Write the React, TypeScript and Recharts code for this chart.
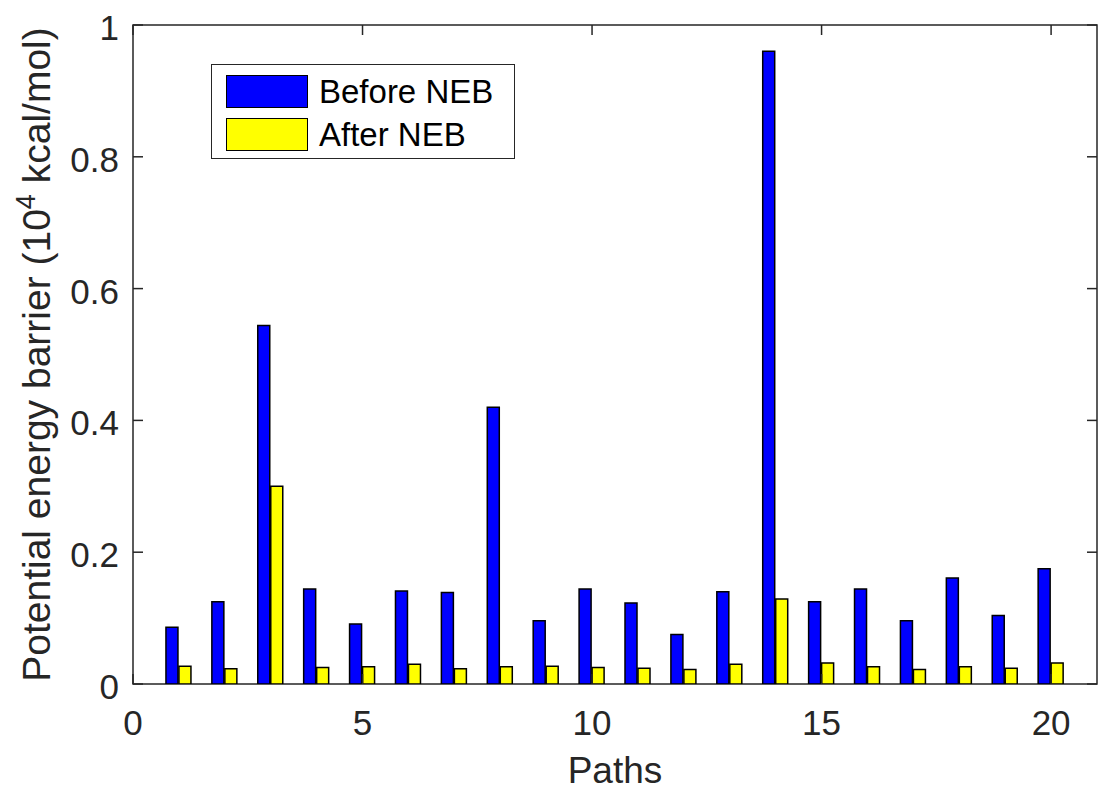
import React from "react";
import { BarChart, Bar, XAxis, YAxis, Legend, ReferenceArea } from "recharts";

// values (units of 10^4 kcal/mol)
const paths = [1, 2, 3, 4, 5, 6, 7, 8, 9, 10, 11, 12, 13, 14, 15, 16, 17, 18, 19, 20];
const beforeNEB = [0.086, 0.125, 0.544, 0.144, 0.091, 0.141, 0.139, 0.42, 0.096, 0.144, 0.123, 0.075, 0.14, 0.96, 0.125, 0.144, 0.096, 0.161, 0.104, 0.175];
const afterNEB = [0.027, 0.023, 0.3, 0.025, 0.026, 0.03, 0.023, 0.026, 0.027, 0.025, 0.024, 0.022, 0.03, 0.129, 0.032, 0.026, 0.022, 0.026, 0.024, 0.032];
const xTicks = [0, 5, 10, 15, 20];
const yTicks = [0, 0.2, 0.4, 0.6, 0.8, 1];

const FONT = "'Liberation Sans', Arial, Helvetica, sans-serif";
const AXIS = "#262626";
const PLOT_TOP = 25;
const PLOT_BOTTOM = 684;
const PLOT_LEFT = 133;
const PLOT_RIGHT = 1097;

const data = paths.map((p, i) => ({ path: p, before: beforeNEB[i], after: afterNEB[i] }));

const fmtY = (v: number) => String(Math.round(v * 10) / 10);

// bottom tick label + inward ticks on bottom and top edges
const XTick = (props: any) => {
  const { x, y, payload } = props;
  return (
    <g>
      <line x1={x} x2={x} y1={PLOT_BOTTOM} y2={PLOT_BOTTOM - 10} stroke={AXIS} strokeWidth={1.5} />
      <line x1={x} x2={x} y1={PLOT_TOP} y2={PLOT_TOP + 10} stroke={AXIS} strokeWidth={1.5} />
      <text x={x} y={y + 51} textAnchor="middle" fontSize={35} fill={AXIS} fontFamily={FONT}>
        {payload.value}
      </text>
    </g>
  );
};

// left tick label + inward ticks on left and right edges
const YTick = (props: any) => {
  const { y, payload } = props;
  return (
    <g>
      <line x1={PLOT_LEFT} x2={PLOT_LEFT + 10} y1={y} y2={y} stroke={AXIS} strokeWidth={1.5} />
      <line x1={PLOT_RIGHT} x2={PLOT_RIGHT - 10} y1={y} y2={y} stroke={AXIS} strokeWidth={1.5} />
      <text x={PLOT_LEFT - 14} y={y + 15} textAnchor="end" fontSize={35} fill={AXIS} fontFamily={FONT}>
        {fmtY(payload.value)}
      </text>
    </g>
  );
};

const XLabel = (props: any) => {
  const vb = props.viewBox || {};
  const cx = vb.x + vb.width / 2;
  return (
    <text x={cx} y={783} textAnchor="middle" fontSize={37} fill={AXIS} fontFamily={FONT}>
      Paths
    </text>
  );
};

const YLabel = () => {
  const cy = (PLOT_TOP + PLOT_BOTTOM) / 2;
  return (
    <text
      x={50}
      y={cy}
      transform={`rotate(-90, 50, ${cy})`}
      textAnchor="middle"
      fontSize={39}
      fill={AXIS}
      fontFamily={FONT}
    >
      Potential energy barrier (10
      <tspan dy={-15} fontSize={27}>4</tspan>
      <tspan dy={15}> kcal/mol)</tspan>
    </text>
  );
};

const legendItems = [
  { name: "Before NEB", color: "#0000ff", top: 10 },
  { name: "After NEB", color: "#ffff00", top: 53 },
];

const LegendBox = () => (
  <div
    style={{
      position: "relative",
      width: 304,
      height: 95,
      border: `1.5px solid ${AXIS}`,
      background: "#fff",
      boxSizing: "border-box",
      fontFamily: FONT,
    }}
  >
    {legendItems.map((it) => (
      <React.Fragment key={it.name}>
        <div
          style={{
            position: "absolute",
            left: 14,
            top: it.top,
            width: 82,
            height: 33,
            background: it.color,
            border: "1.5px solid #000",
            boxSizing: "border-box",
          }}
        />
        <div
          style={{
            position: "absolute",
            left: 107,
            top: it.top - 2,
            height: 38,
            lineHeight: "38px",
            fontSize: 33,
            color: "#000",
            whiteSpace: "nowrap",
          }}
        >
          {it.name}
        </div>
      </React.Fragment>
    ))}
  </div>
);

export default function App() {
  return (
    <div style={{ position: "absolute", left: 0, top: 0, width: 1098, height: 792, background: "#fff" }}>
      <BarChart
        width={1098}
        height={792}
        data={data}
        margin={{ top: PLOT_TOP, right: 1098 - PLOT_RIGHT, bottom: 0, left: 0 }}
        barSize={12}
        barGap={1}
      >
        <XAxis
          dataKey="path"
          type="number"
          domain={[0, 21]}
          ticks={xTicks}
          allowDataOverflow
          height={108}
          tickLine={false}
          tickSize={0}
          tickMargin={0}
          axisLine={false}
          tick={<XTick />}
          label={<XLabel />}
        />
        <YAxis
          type="number"
          domain={[0, 1]}
          ticks={yTicks}
          allowDataOverflow
          width={PLOT_LEFT}
          tickLine={false}
          tickSize={0}
          tickMargin={0}
          axisLine={false}
          tick={<YTick />}
          label={<YLabel />}
        />
        <ReferenceArea x1={0} x2={21} y1={0} y2={1} fill="none" stroke={AXIS} strokeWidth={1.5} fillOpacity={0} />
        <Legend
          layout="vertical"
          align="center"
          verticalAlign="middle"
          wrapperStyle={{ left: 211, top: 64, width: 304, height: 95 }}
          content={<LegendBox />}
        />
        <Bar dataKey="before" name="Before NEB" fill="#0000ff" stroke="#000" strokeWidth={1.5} isAnimationActive={false} />
        <Bar dataKey="after" name="After NEB" fill="#ffff00" stroke="#000" strokeWidth={1.5} isAnimationActive={false} />
      </BarChart>
    </div>
  );
}
